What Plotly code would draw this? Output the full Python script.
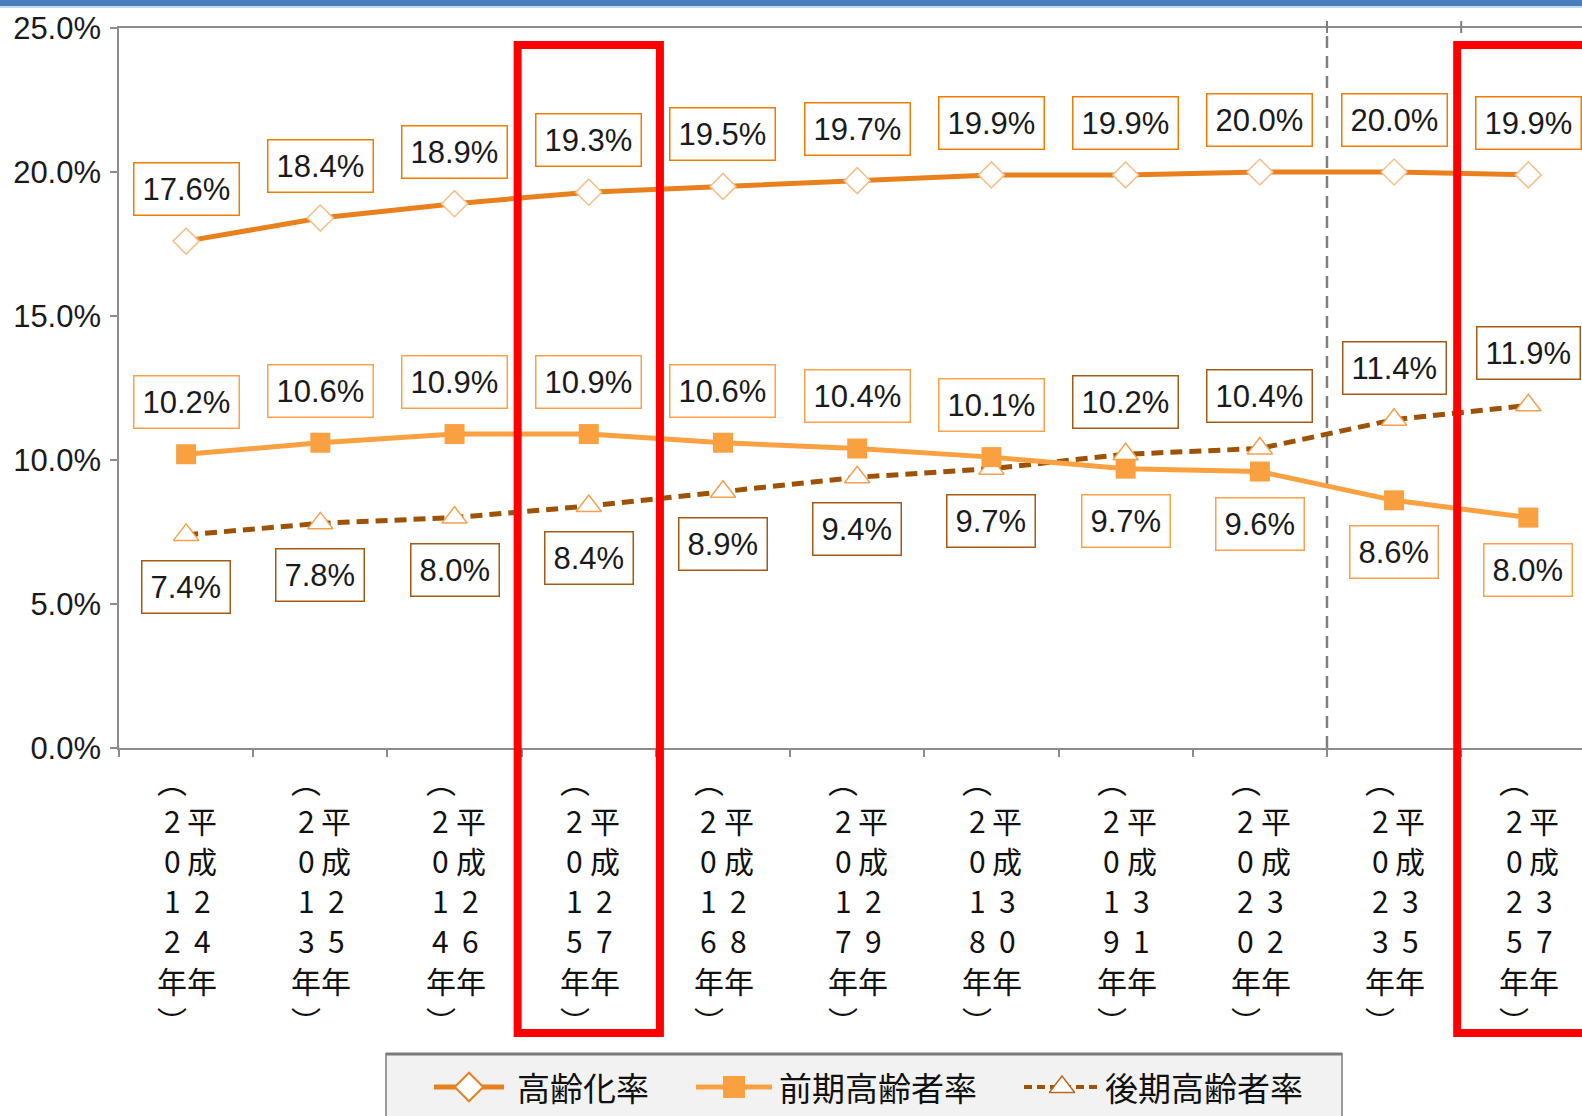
import plotly.graph_objects as go

# ---------------- data ----------------
years = ["2012", "2013", "2014", "2015", "2016", "2017", "2018", "2019", "2020", "2023", "2025"]
heisei = ["24", "25", "26", "27", "28", "29", "30", "31", "32", "35", "37"]
aging_rate = [17.6, 18.4, 18.9, 19.3, 19.5, 19.7, 19.9, 19.9, 20.0, 20.0, 19.9]      # 高齢化率
early_rate = [10.2, 10.6, 10.9, 10.9, 10.6, 10.4, 10.1, 9.7, 9.6, 8.6, 8.0]          # 前期高齢者率
late_rate = [7.4, 7.8, 8.0, 8.4, 8.9, 9.4, 9.7, 10.2, 10.4, 11.4, 11.9]              # 後期高齢者率
series_names = ["高齢化率", "前期高齢者率", "後期高齢者率"]
y_ticks = [0, 5, 10, 15, 20, 25]
highlight_idx = [3, 10]
forecast_split = 8.5

# ---------------- style ----------------
W, H = 1582, 1116
C_AGING = "#E8801E"
C_EARLY = "#F9A040"
C_LATE = "#9E5206"
NUM_FONT = "Liberation Sans, Arial"
JP_FONT = "Noto Sans CJK JP"
AX_GRAY = "#8c8c8c"

x = list(range(len(years)))
plot_top, plot_bottom, plot_left = 28, 748, 119


def py(p):
    return 1 - p / H


fig = go.Figure()

fig.add_trace(go.Scatter(
    x=x, y=aging_rate, mode="lines+markers", name=series_names[0],
    line=dict(color=C_AGING, width=5),
    marker=dict(symbol="diamond", size=20, color="white", line=dict(color="#F7BE8A", width=1.5)),
))
fig.add_trace(go.Scatter(
    x=x, y=late_rate, mode="lines+markers", name=series_names[2],
    line=dict(color=C_LATE, width=5, dash="12px,7px"),
    marker=dict(symbol="triangle-up", size=22, color="white", line=dict(color="#F5A050", width=1.5)),
))
fig.add_trace(go.Scatter(
    x=x, y=early_rate, mode="lines+markers", name=series_names[1],
    line=dict(color=C_EARLY, width=5),
    marker=dict(symbol="square", size=20, color=C_EARLY),
))

annotations = []
LBL_SHIFT = 52


def label(i, v, color, above):
    annotations.append(dict(
        x=i, y=v, xref="x", yref="y", text=f"{v:.1f}%", showarrow=False,
        yshift=LBL_SHIFT if above else -LBL_SHIFT,
        font=dict(family=NUM_FONT, size=31, color="#1a1a1a"),
        bgcolor="white", bordercolor=color, borderwidth=1.5, borderpad=8,
        xanchor="center", yanchor="middle",
    ))


for i in x:
    label(i, aging_rate[i], "#F07D00", True)
    e_above = early_rate[i] >= late_rate[i]
    label(i, early_rate[i], "#F9A24A", e_above)
    label(i, late_rate[i], "#A35A14", not e_above)

# vertical category labels: right column 平成xx年, left column (xxxx年)
ROW0, ROW_STEP = 900, 40      # pixel y of the middle row, row pitch
for i in x:
    left = ["︵"] + list(years[i]) + ["年", "︶"]          # rows -3 .. 3
    right = ["平", "成"] + list(heisei[i]) + ["年"]         # rows -2 .. 2
    cols = ((left, -3, -14), (right, -2, 16))
    for chars, r0, xs in cols:
        for k, ch in enumerate(chars):
            annotations.append(dict(
                x=i, xref="x", y=py(ROW0 + (r0 + k) * ROW_STEP), yref="paper", text=ch,
                showarrow=False, xshift=xs, xanchor="center", yanchor="middle",
                font=dict(family=JP_FONT, size=30, color="#111111"),
            ))

shapes = []
# top blue band
shapes.append(dict(type="rect", xref="paper", yref="paper", x0=0, x1=1, y0=py(6), y1=1.01,
                   fillcolor="#4A7EBB", line=dict(width=0), layer="above"))
shapes.append(dict(type="rect", xref="paper", yref="paper", x0=0, x1=1, y0=py(8), y1=py(6),
                   fillcolor="#C9D8EC", line=dict(width=0), layer="above"))
# forecast divider
shapes.append(dict(type="line", xref="x", yref="y", x0=forecast_split, x1=forecast_split, y0=0, y1=25,
                   line=dict(color="#7f7f7f", width=2.5, dash="12px,8px"), layer="below"))
# small top ticks
for t in (forecast_split, forecast_split + 1):
    shapes.append(dict(type="line", xref="x", yref="paper", x0=t, x1=t, y0=py(33), y1=py(21),
                       line=dict(color="#7f7f7f", width=2)))
# red highlight frames
for k in highlight_idx:
    shapes.append(dict(type="rect", xref="x", yref="paper", x0=k - 0.53, x1=k + 0.53,
                       y0=py(1033), y1=py(45), line=dict(color="#FF0000", width=8),
                       fillcolor="rgba(0,0,0,0)", layer="above"))

# legend box
leg_l, leg_r, leg_t = 386, 1342, 1054
shapes.append(dict(type="rect", xref="paper", yref="paper", x0=leg_l / W, x1=leg_r / W,
                   y0=-0.01, y1=py(leg_t), fillcolor="#F2F2F2", line=dict(color="#9a9a9a", width=2),
                   layer="below"))
shapes.append(dict(type="line", xref="paper", yref="paper", x0=leg_l / W, x1=leg_r / W,
                   y0=py(leg_t), y1=py(leg_t), line=dict(color="#7a7a7a", width=3)))

# legend symbols on a helper axis in pixel units
leg_y = H - 1087
leg_items = [
    (48, 118, dict(color=C_AGING, width=5), dict(symbol="diamond", size=22, color="white", line=dict(color=C_AGING, width=2))),
    (310, 386, dict(color=C_EARLY, width=5), dict(symbol="square", size=22, color=C_EARLY)),
    (638, 714, dict(color=C_LATE, width=4, dash="8px,5px"), dict(symbol="triangle-up", size=22, color="white", line=dict(color="#B86A1E", width=1.5))),
]
text_x = [129, 391, 717]
for (x0, x1, ln, mk), name, tx in zip(leg_items, series_names, text_x):
    fig.add_trace(go.Scatter(x=[x0, x1], y=[leg_y, leg_y], mode="lines", line=ln,
                             xaxis="x2", yaxis="y2", hoverinfo="skip"))
    fig.add_trace(go.Scatter(x=[(x0 + x1) / 2], y=[leg_y], mode="markers", marker=mk,
                             xaxis="x2", yaxis="y2", hoverinfo="skip"))
    annotations.append(dict(x=tx, y=leg_y, xref="x2", yref="y2", text=name, showarrow=False,
                            xanchor="left", yanchor="middle",
                            font=dict(family=JP_FONT, size=33, color="#111111")))

fig.update_layout(
    template="none",
    width=W, height=H, margin=dict(l=0, r=0, t=0, b=0, pad=0),
    paper_bgcolor="white", plot_bgcolor="white", showlegend=False,
    xaxis=dict(
        domain=[plot_left / W, 1], range=[-0.5, 10.4], automargin=False,
        tickvals=[i - 0.5 for i in range(len(years) + 1)], ticktext=[""] * (len(years) + 1),
        ticks="outside", ticklen=7, tickcolor=AX_GRAY, tickwidth=1.5,
        showline=True, linecolor=AX_GRAY, linewidth=1.5, mirror=True,
        showgrid=False, zeroline=False,
    ),
    yaxis=dict(
        domain=[1 - plot_bottom / H, 1 - plot_top / H], range=[0, 25], automargin=False,
        tickvals=y_ticks, ticktext=[f"{v:.1f}%" for v in y_ticks],
        ticks="outside", ticklen=7, tickcolor=AX_GRAY, tickwidth=1.5,
        showline=True, linecolor=AX_GRAY, linewidth=1.5,
        showgrid=False, zeroline=False, ticklabelstandoff=3,
        tickfont=dict(family=NUM_FONT, size=31, color="#1a1a1a"),
    ),
    xaxis2=dict(domain=[leg_l / W, leg_r / W], range=[0, leg_r - leg_l], visible=False,
                anchor="y2", automargin=False),
    yaxis2=dict(domain=[0, (H - leg_t) / H], range=[0, H - leg_t], visible=False,
                anchor="x2", automargin=False),
    shapes=shapes, annotations=annotations,
)

fig.write_html("out.html")
